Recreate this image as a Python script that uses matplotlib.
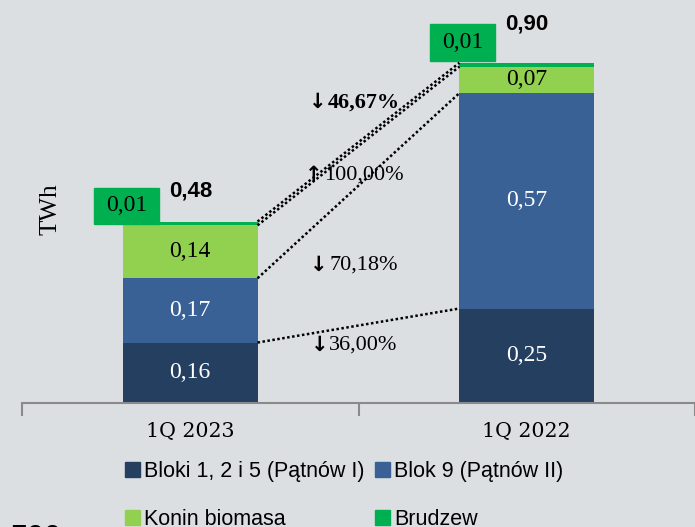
import numpy as np
import matplotlib.pyplot as plt
from matplotlib.patches import Patch, Rectangle

# dane (TWh)
kategorie = ['1Q 2023', '1Q 2022']
bloki_125 = [0.16, 0.25]
blok_9 = [0.17, 0.57]
konin = [0.14, 0.07]
brudzew = [0.01, 0.01]
sumy = ['0,48', '0,90']
strzalki = ['↓', '↑', '↓', '↓']
zmiany = ['46,67%', '100,00%', '70,18%', '36,00%']

serie = [bloki_125, blok_9, konin, brudzew]
nazwy = ['Bloki 1, 2 i 5 (Pątnów I)', 'Blok 9 (Pątnów II)', 'Konin biomasa', 'Brudzew']
kolory = ['#253f60', '#3a6195', '#92d050', '#00b050']
kolory_txt = ['white', 'white', 'black', None]

tlo = '#dcdfe1'
serif = ['Liberation Serif', 'DejaVu Serif']
sans = ['Liberation Sans', 'DejaVu Sans']

fig = plt.figure(figsize=(6.95, 5.27), dpi=100, facecolor=tlo)
ax = fig.add_axes([22 / 695, 124 / 527, 673 / 695, 403 / 527])
ax.set_facecolor(tlo)

x = np.arange(len(kategorie))
szer = 0.4
dol = np.zeros(len(kategorie))
for vals, kol, ktxt in zip(serie, kolory, kolory_txt):
    ax.bar(x, vals, szer, bottom=dol, color=kol, edgecolor='none')
    if ktxt:
        for i, v in enumerate(vals):
            ax.text(x[i], dol[i] + v / 2, f'{v:.2f}'.replace('.', ','), ha='center', va='center',
                    color=ktxt, fontsize=17, family=serif)
    dol += np.array(vals)

# etykiety Brudzew w zielonych ramkach + sumy
off_ramka = [0.042, 0.054]
off_suma = [0.081, 0.103]
for i, v in enumerate(brudzew):
    bx, by = x[i] - 0.19, dol[i] + off_ramka[i]
    ax.add_patch(Rectangle((bx - 0.097, by - 0.048), 0.194, 0.096, color=kolory[3], clip_on=False))
    ax.text(bx, by, f'{v:.2f}'.replace('.', ','), ha='center', va='center', fontsize=17, family=serif)
    ax.text(x[i], dol[i] + off_suma[i], sumy[i], ha='center', va='center', fontsize=16,
            fontweight='bold', family=sans)

# linie kropkowane miedzy slupkami
skum = np.cumsum(np.array(serie), axis=0)
for k in range(4):
    ax.plot([x[0] + szer / 2, x[1] - szer / 2], [skum[k][0], skum[k][1]], color='black',
            linestyle=(0, (1, 1)), linewidth=1.8)

# zmiany procentowe
poz_y = [0.796, 0.603, 0.365, 0.153]
for j, (s, t, py) in enumerate(zip(strzalki, zmiany, poz_y)):
    txt = ax.text(0.515, py, t, ha='center', va='center', fontsize=16, family=serif,
                  fontweight='bold' if j == 0 else 'normal')
    ax.annotate(s, xy=(0, 0.5), xycoords=txt, xytext=(-1, 0), textcoords='offset points',
                ha='right', va='center', fontsize=15, fontweight='bold', family=['DejaVu Sans'])

ax.set_xlim(-0.5, -0.5 + 673 / 340)
ax.set_ylim(0, 403 / 378)
for s in ['top', 'right', 'left']:
    ax.spines[s].set_visible(False)
ax.spines['bottom'].set_color('#8a8a8a')
ax.spines['bottom'].set_linewidth(1.5)
ax.set_yticks([])
ax.set_xticks(x)
ax.set_xticklabels(kategorie, fontsize=14.8, family=['DejaVu Serif'])
ax.tick_params(axis='x', which='major', length=0, pad=14)
ax.set_xticks([-0.5, 0.5, 1.5], minor=True)
ax.tick_params(axis='x', which='minor', length=9, width=1.5, color='#8a8a8a')

ax.text(-0.415, 0.513, 'TWh', rotation=90, ha='center', va='center', fontsize=18, family=serif)

uchwyty = [Patch(color=kolory[0]), Patch(color=kolory[2]), Patch(color=kolory[1]), Patch(color=kolory[3])]
etyk = [nazwy[0], nazwy[2], nazwy[1], nazwy[3]]
leg = fig.legend(uchwyty, etyk, loc='upper left', bbox_to_anchor=(125 / 695, 1 - 461 / 527), ncol=2,
                 frameon=False, prop={'family': sans, 'size': 15.5}, handlelength=0.7,
                 handleheight=0.7, handletextpad=0.2, columnspacing=0.45, labelspacing=1.25,
                 borderpad=0, borderaxespad=0)

fig.text(10 / 695, 1 - 524 / 527, '500', fontsize=22, fontweight='bold', family=sans, va='top')

fig.savefig('out.png', dpi=100, facecolor=tlo)
